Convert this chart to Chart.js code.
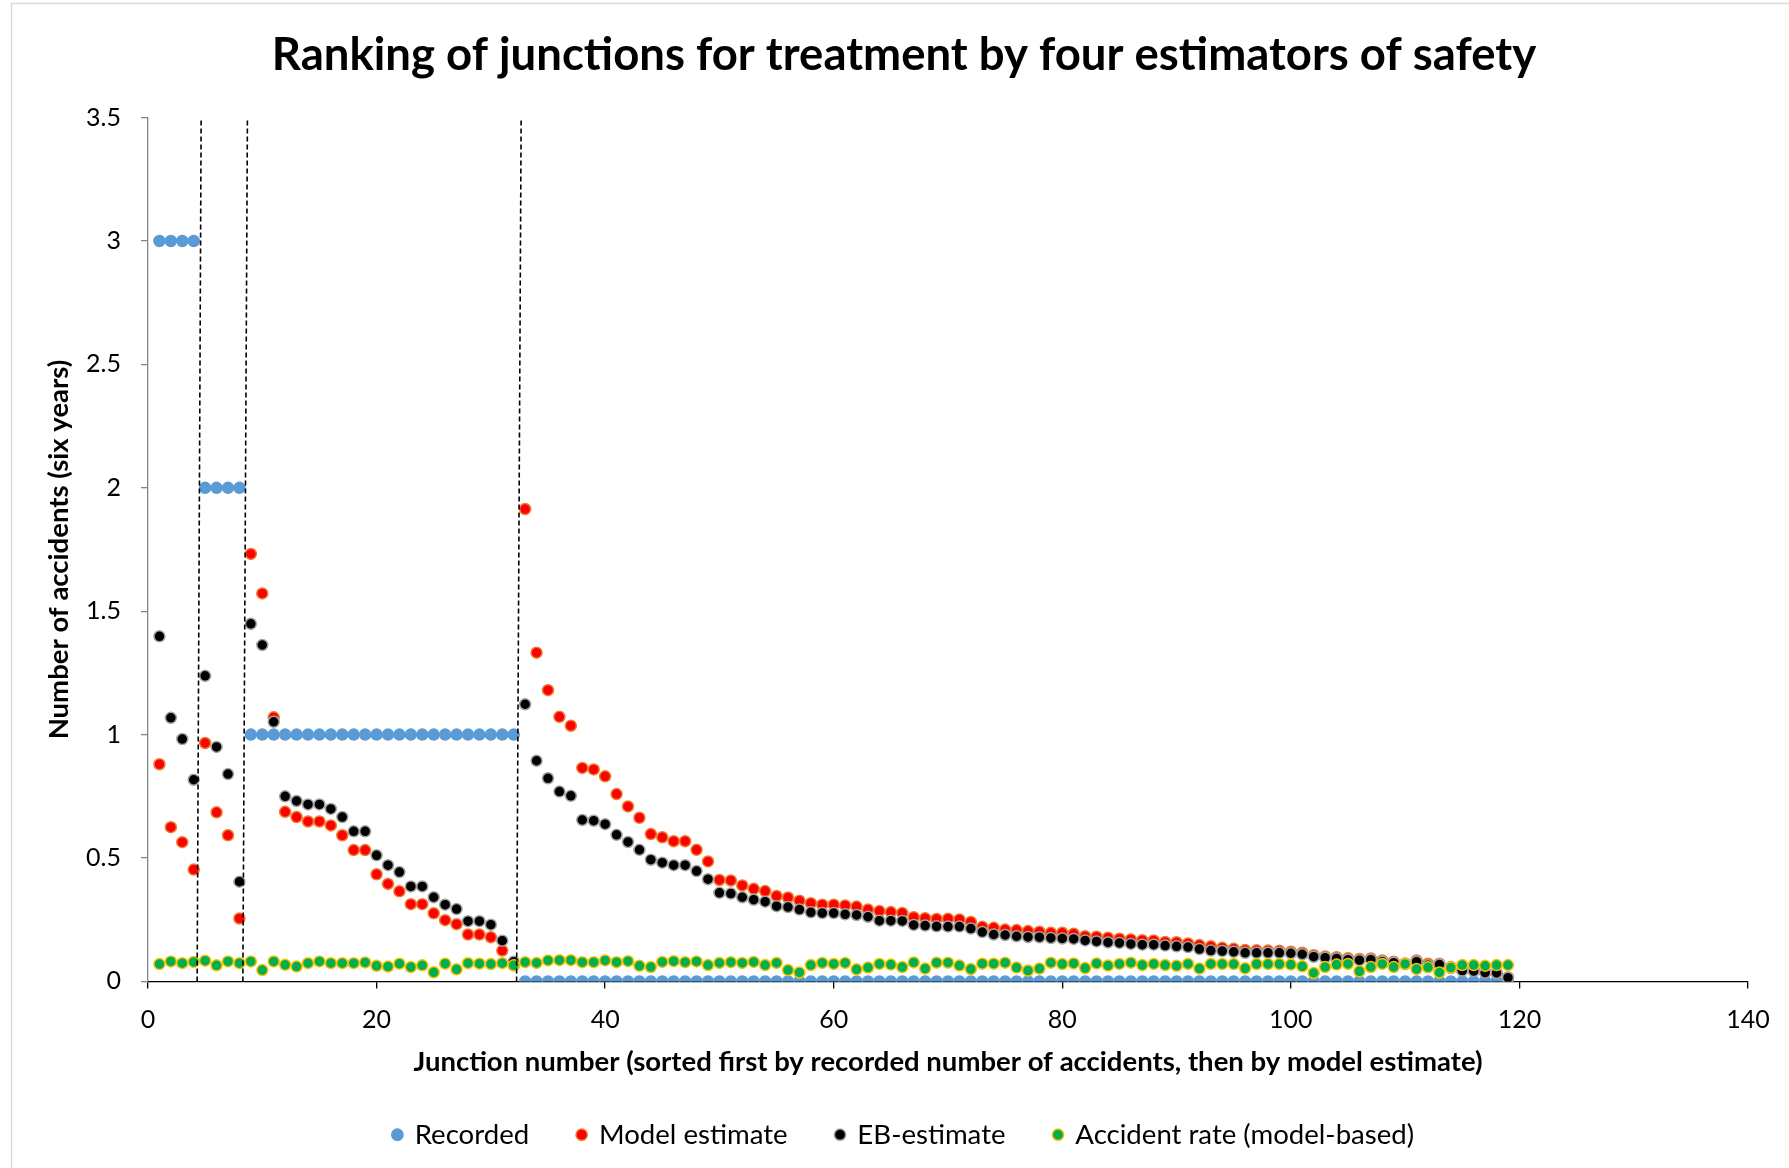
<!DOCTYPE html>
<html>
<head>
<meta charset="utf-8">
<script src="https://cdn.jsdelivr.net/npm/chart.js@4.4.0/dist/chart.umd.min.js"></script>
<style>
html,body{margin:0;padding:0;background:#fff;}
canvas{display:block;}
</style>
</head>
<body>
<canvas id="c" width="1789" height="1168"></canvas>
<script>
const chartTitle = "Ranking of junctions for treatment by four estimators of safety";
const xAxisTitle = "Junction number (sorted first by recorded number of accidents, then by model estimate)";
const yAxisTitle = "Number of accidents (six years)";
const seriesNames = ["Recorded", "Model estimate", "EB-estimate", "Accident rate (model-based)"];
const xTickLabels = ["0", "20", "40", "60", "80", "100", "120", "140"];
const yTickLabels = ["0", "0.5", "1", "1.5", "2", "2.5", "3", "3.5"];

// junction numbers 1..119
const junctions = [1,2,3,4,5,6,7,8,9,10,11,12,13,14,15,16,17,18,19,20,
21,22,23,24,25,26,27,28,29,30,31,32,33,34,35,36,37,38,39,40,
41,42,43,44,45,46,47,48,49,50,51,52,53,54,55,56,57,58,59,60,
61,62,63,64,65,66,67,68,69,70,71,72,73,74,75,76,77,78,79,80,
81,82,83,84,85,86,87,88,89,90,91,92,93,94,95,96,97,98,99,100,
101,102,103,104,105,106,107,108,109,110,111,112,113,114,115,116,117,118,119];

const recorded = [3,3,3,3,2,2,2,2,1,1,1,1,1,1,1,1,1,1,1,1,
1,1,1,1,1,1,1,1,1,1,1,1,0,0,0,0,0,0,0,0,
0,0,0,0,0,0,0,0,0,0,0,0,0,0,0,0,0,0,0,0,
0,0,0,0,0,0,0,0,0,0,0,0,0,0,0,0,0,0,0,0,
0,0,0,0,0,0,0,0,0,0,0,0,0,0,0,0,0,0,0,0,
0,0,0,0,0,0,0,0,0,0,0,0,0,0,0,0,0,0,0];

const modelEstimate = [0.88,0.625,0.564,0.453,0.966,0.685,0.592,0.255,1.732,1.572,
1.07,0.687,0.666,0.648,0.648,0.632,0.592,0.532,0.532,0.434,
0.395,0.365,0.313,0.313,0.276,0.248,0.232,0.19,0.19,0.179,
0.125,0.065,1.914,1.332,1.18,1.072,1.036,0.865,0.859,0.831,
0.759,0.709,0.663,0.597,0.584,0.568,0.568,0.533,0.486,0.411,
0.409,0.389,0.375,0.366,0.346,0.34,0.327,0.317,0.311,0.311,
0.308,0.303,0.291,0.285,0.281,0.277,0.26,0.256,0.253,0.254,
0.251,0.241,0.221,0.217,0.21,0.208,0.204,0.201,0.197,0.197,
0.193,0.183,0.181,0.177,0.173,0.17,0.167,0.166,0.16,0.159,
0.154,0.147,0.142,0.136,0.132,0.127,0.126,0.125,0.124,0.12,
0.116,0.106,0.101,0.098,0.094,0.091,0.093,0.085,0.08,0.073,
0.085,0.072,0.072,0.058,0.045,0.045,0.037,0.034,0.016];

const ebEstimate = [1.398,1.068,0.982,0.817,1.238,0.95,0.84,0.404,1.449,1.363,
1.052,0.75,0.731,0.717,0.717,0.699,0.666,0.608,0.608,0.511,
0.471,0.443,0.385,0.385,0.341,0.311,0.293,0.244,0.244,0.23,
0.165,0.08,1.123,0.894,0.823,0.769,0.752,0.654,0.651,0.637,
0.594,0.565,0.533,0.493,0.481,0.471,0.471,0.447,0.414,0.359,
0.356,0.341,0.331,0.323,0.305,0.301,0.291,0.28,0.277,0.277,
0.272,0.269,0.262,0.246,0.246,0.245,0.229,0.226,0.223,0.222,
0.222,0.214,0.2,0.19,0.188,0.183,0.18,0.179,0.176,0.174,
0.172,0.166,0.162,0.158,0.156,0.152,0.149,0.149,0.145,0.142,
0.139,0.131,0.125,0.123,0.12,0.116,0.116,0.116,0.116,0.114,
0.11,0.1,0.096,0.093,0.088,0.086,0.088,0.08,0.076,0.07,
0.08,0.065,0.068,0.054,0.044,0.042,0.035,0.034,0.015];

const accidentRate = [0.07,0.081,0.074,0.079,0.084,0.065,0.081,0.074,0.081,0.046,
0.081,0.067,0.06,0.074,0.081,0.074,0.074,0.074,0.077,0.063,
0.06,0.072,0.058,0.065,0.037,0.072,0.049,0.074,0.072,0.07,
0.074,0.065,0.078,0.075,0.085,0.086,0.086,0.078,0.078,0.085,
0.078,0.082,0.063,0.058,0.079,0.082,0.078,0.081,0.066,0.075,
0.078,0.075,0.079,0.066,0.075,0.046,0.036,0.066,0.075,0.071,
0.075,0.049,0.056,0.071,0.068,0.058,0.077,0.052,0.076,0.076,
0.064,0.05,0.072,0.072,0.076,0.056,0.044,0.052,0.076,0.07,
0.073,0.054,0.073,0.064,0.071,0.076,0.066,0.071,0.066,0.063,
0.071,0.052,0.071,0.07,0.07,0.053,0.07,0.07,0.07,0.068,
0.061,0.034,0.058,0.068,0.071,0.041,0.058,0.071,0.058,0.071,
0.05,0.057,0.036,0.056,0.066,0.066,0.063,0.066,0.066];

// dashed separator lines between groups (bottom x, top x), spanning y 0..3.5
const separatorBottomX = [4.3, 8.3, 32.25];
const separatorTopX = [4.65, 8.7, 32.65];
const separatorY = [0, 3.5];

function pts(ys) { return junctions.map((j, i) => ({x: j, y: ys[i]})); }

const pointCommon = { pointStyle: 'circle', pointRadius: 5.5, pointHoverRadius: 5.5, borderWidth: 1.5, showLine: false };

const datasets = [
  Object.assign({label: seriesNames[0], data: pts(recorded), backgroundColor: '#5B9BD5', borderColor: '#5B9BD5', order: 4}, pointCommon),
  Object.assign({label: seriesNames[1], data: pts(modelEstimate), backgroundColor: '#FF0000', borderColor: '#ED7D31', order: 3}, pointCommon),
  Object.assign({label: seriesNames[2], data: pts(ebEstimate), backgroundColor: '#000000', borderColor: '#A5A5A5', order: 2}, pointCommon),
  Object.assign({label: seriesNames[3], data: pts(accidentRate), backgroundColor: '#00B050', borderColor: '#FFC000', order: 1}, pointCommon)
];
separatorBottomX.forEach((bx, k) => {
  datasets.push({
    label: 'sep' + k,
    data: [{x: bx, y: separatorY[0]}, {x: separatorTopX[k], y: separatorY[1]}],
    showLine: true, borderColor: '#000', borderWidth: 1.6, borderDash: [5, 3],
    pointRadius: 0, pointHoverRadius: 0, fill: false, order: 0, clip: false
  });
});

const framePlugin = {
  id: 'frame',
  beforeDraw(chart) {
    const c = chart.ctx;
    c.save();
    c.fillStyle = '#fff';
    c.fillRect(0, 0, chart.width, chart.height);
    c.strokeStyle = '#D9D9D9';
    c.lineWidth = 1.5;
    c.beginPath();
    c.moveTo(11.5, chart.height);
    c.lineTo(11.5, 3.5);
    c.lineTo(chart.width, 3.5);
    c.stroke();
    c.restore();
  }
};

new Chart(document.getElementById('c'), {
  type: 'scatter',
  data: { datasets },
  plugins: [framePlugin],
  options: {
    responsive: false,
    animation: false,
    devicePixelRatio: 1,
    layout: { padding: { left: 19, right: 0, top: 0, bottom: 9.5 } },
    plugins: {
      title: {
        display: true, text: chartTitle, color: '#000',
        font: { family: 'Lato', weight: 'bold', size: 45.5, lineHeight: 1.2 },
        padding: { top: 28, bottom: 35 }
      },
      legend: {
        position: 'bottom',
        labels: {
          usePointStyle: true, boxWidth: 7, boxHeight: 8, padding: 49,
          color: '#000', font: { family: 'Lato', size: 27.6 },
          filter: (item) => item.datasetIndex < 4,
          sort: (a, b) => a.datasetIndex - b.datasetIndex
        }
      },
      tooltip: { enabled: false }
    },
    scales: {
      x: {
        type: 'linear', min: 0, max: 140,
        afterFit: (s) => { s.height = 90.5; s.paddingRight = 41; },
        ticks: {
          stepSize: 20, color: '#000', padding: 17, maxRotation: 0,
          font: { family: 'Lato', size: 25 },
          callback: (v) => xTickLabels[Math.round(v / 20)]
        },
        grid: { drawOnChartArea: false, drawTicks: true, tickLength: 7, color: '#000', lineWidth: 1.3 },
        border: { display: true, color: '#000', width: 1.3 },
        title: {
          display: true, text: xAxisTitle, color: '#000',
          font: { family: 'Lato', weight: 'bold', size: 27.5, lineHeight: 1.2 },
          padding: { top: 0, bottom: -7 }
        }
      },
      y: {
        type: 'linear', min: 0, max: 3.5,
        afterFit: (s) => { s.width = 129; },
        ticks: {
          stepSize: 0.5, color: '#000', padding: 20,
          font: { family: 'Lato', size: 25 },
          callback: (v) => yTickLabels[Math.round(v / 0.5)]
        },
        grid: { drawOnChartArea: false, drawTicks: true, tickLength: 7, color: '#868686', lineWidth: 1.3 },
        border: { display: true, color: '#868686', width: 1.3 },
        title: {
          display: true, text: yAxisTitle, color: '#000',
          font: { family: 'Lato', weight: 'bold', size: 27.5, lineHeight: 1.2 },
          padding: { top: 24, bottom: 0 }
        }
      }
    }
  }
});
</script>
</body>
</html>
